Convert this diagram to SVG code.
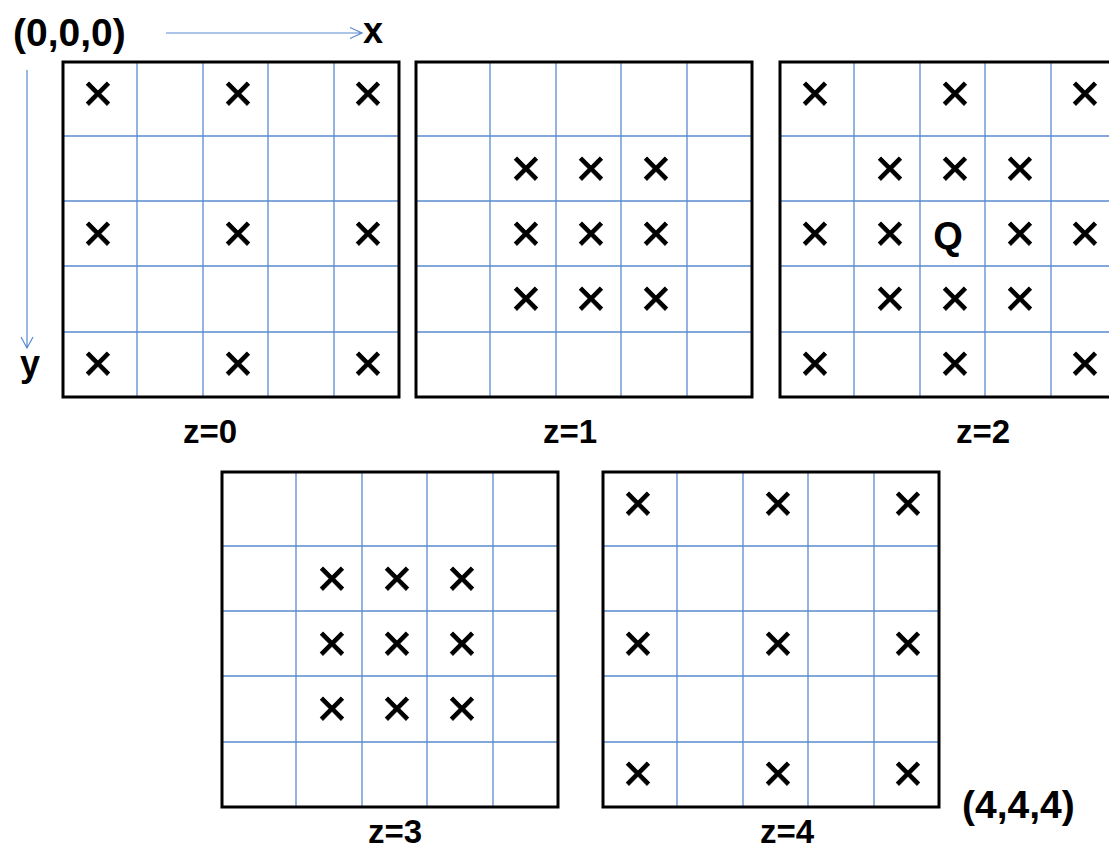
<svg xmlns="http://www.w3.org/2000/svg" xmlns:xlink="http://www.w3.org/1999/xlink" width="1109" height="850" viewBox="0 0 1109 850">
<style>
.border{fill:none;stroke:#000;stroke-width:3}
.inner{stroke:#5a8ad0;stroke-width:1.3}
.x{font-family:"Liberation Sans",Arial,sans-serif;font-weight:normal;font-size:52px;text-anchor:middle;fill:#000;stroke:#000;stroke-width:0.9}
.lbl{font-family:"Liberation Sans",Arial,sans-serif;font-weight:bold;fill:#000}
.ax{stroke:#5a8ad0;stroke-width:1.2;fill:none}
</style>
<defs>
<g id="gridbase">
<path class="inner" d="M74,0V335M140,0V335M205,0V335M271,0V335M0,74H336M0,139H336M0,204H336M0,270H336"/>
<rect class="border" x="0" y="0" width="336" height="335"/>
</g>
</defs>
<rect width="1109" height="850" fill="#fff"/>
<g id="connectors">
<path class="ax" d="M166,33H362M350,27.5L362,33L350,38.5"/>
<path class="ax" d="M27,70V348M21,337L27,348L33,337"/>
</g>
<g id="axis-labels">
<text class="lbl" x="13" y="46" font-size="39">(0,0,0)</text>
<text class="lbl" x="363" y="43" font-size="36">x</text>
<text class="lbl" x="20" y="376" font-size="36">y</text>
<text class="lbl" x="962" y="818" font-size="39">(4,4,4)</text>
</g>
<g id="z0">
<use xlink:href="#gridbase" x="63" y="62"/>
<text class="x" x="98" y="111">×</text><text class="x" x="238" y="111">×</text><text class="x" x="368" y="111">×</text>
<text class="x" x="98" y="251">×</text><text class="x" x="238" y="251">×</text><text class="x" x="368" y="251">×</text>
<text class="x" x="98" y="381">×</text><text class="x" x="238" y="381">×</text><text class="x" x="368" y="381">×</text>
<text class="lbl" x="210" y="443" font-size="33" text-anchor="middle">z=0</text>
</g>
<g id="z1">
<use xlink:href="#gridbase" x="416" y="62"/>
<text class="x" x="526" y="186">×</text><text class="x" x="591" y="186">×</text><text class="x" x="656" y="186">×</text>
<text class="x" x="526" y="251">×</text><text class="x" x="591" y="251">×</text><text class="x" x="656" y="251">×</text>
<text class="x" x="526" y="316">×</text><text class="x" x="591" y="316">×</text><text class="x" x="656" y="316">×</text>
<text class="lbl" x="570" y="443" font-size="33" text-anchor="middle">z=1</text>
</g>
<g id="z2">
<use xlink:href="#gridbase" x="780" y="62"/>
<text class="x" x="815" y="111">×</text><text class="x" x="955" y="111">×</text><text class="x" x="1085" y="111">×</text>
<text class="x" x="890" y="186">×</text><text class="x" x="955" y="186">×</text><text class="x" x="1020" y="186">×</text>
<text class="x" x="815" y="251">×</text><text class="x" x="890" y="251">×</text><text class="x" x="1020" y="251">×</text><text class="x" x="1085" y="251">×</text>
<text class="lbl" x="948" y="249" font-size="38" text-anchor="middle">Q</text>
<text class="x" x="890" y="316">×</text><text class="x" x="955" y="316">×</text><text class="x" x="1020" y="316">×</text>
<text class="x" x="815" y="381">×</text><text class="x" x="955" y="381">×</text><text class="x" x="1085" y="381">×</text>
<text class="lbl" x="983" y="443" font-size="33" text-anchor="middle">z=2</text>
</g>
<g id="z3">
<use xlink:href="#gridbase" x="222" y="472"/>
<text class="x" x="332" y="596">×</text><text class="x" x="397" y="596">×</text><text class="x" x="462" y="596">×</text>
<text class="x" x="332" y="661">×</text><text class="x" x="397" y="661">×</text><text class="x" x="462" y="661">×</text>
<text class="x" x="332" y="726">×</text><text class="x" x="397" y="726">×</text><text class="x" x="462" y="726">×</text>
<text class="lbl" x="395" y="843" font-size="33" text-anchor="middle">z=3</text>
</g>
<g id="z4">
<use xlink:href="#gridbase" x="603" y="472"/>
<text class="x" x="638" y="521">×</text><text class="x" x="778" y="521">×</text><text class="x" x="908" y="521">×</text>
<text class="x" x="638" y="661">×</text><text class="x" x="778" y="661">×</text><text class="x" x="908" y="661">×</text>
<text class="x" x="638" y="791">×</text><text class="x" x="778" y="791">×</text><text class="x" x="908" y="791">×</text>
<text class="lbl" x="787" y="843" font-size="33" text-anchor="middle">z=4</text>
</g>
</svg>
